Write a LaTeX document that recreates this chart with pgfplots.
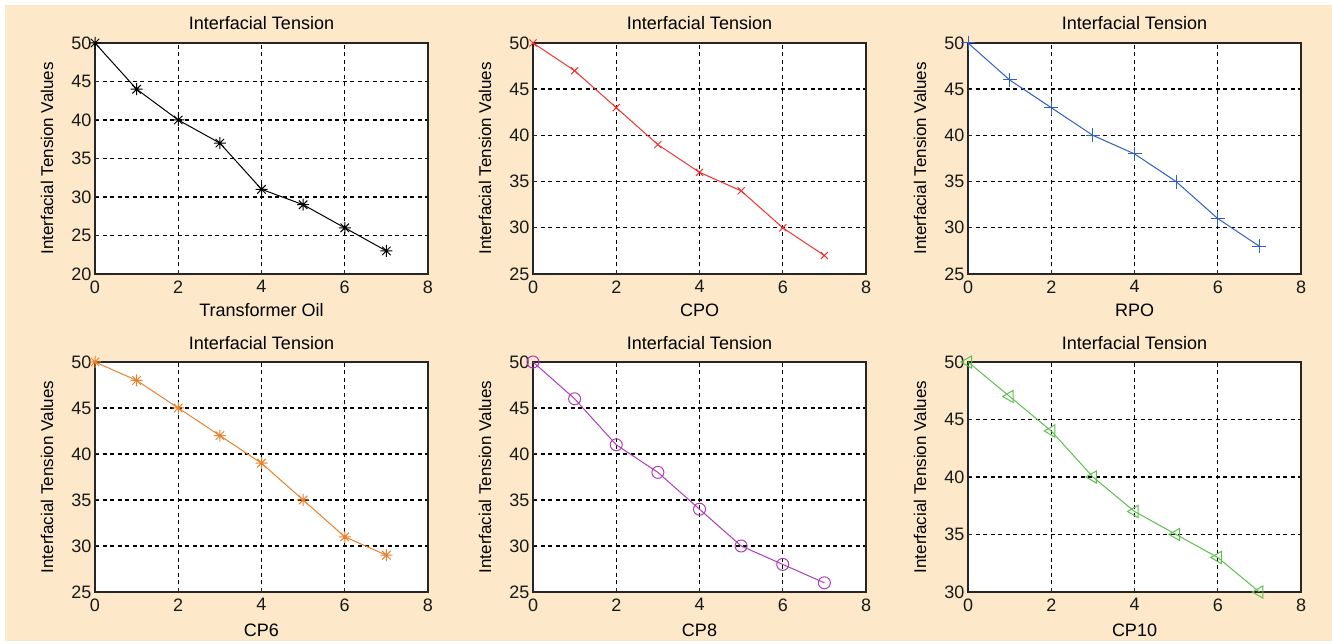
\documentclass[border=0pt]{standalone}
\usepackage{pgfplots}
\pgfplotsset{compat=1.18}
\usepackage{fontspec}
\setmainfont{Liberation Sans}
\definecolor{bg}{RGB}{253,233,201}
\definecolor{cred}{RGB}{240,50,50}
\definecolor{cblue}{RGB}{50,95,195}
\definecolor{corange}{RGB}{232,130,45}
\definecolor{cpurple}{RGB}{175,60,185}
\definecolor{cgreen}{RGB}{95,190,80}
\pgfdeclareplotmark{mstar}{%
  \pgfpathmoveto{\pgfqpoint{-\pgfplotmarksize}{0pt}}\pgfpathlineto{\pgfqpoint{\pgfplotmarksize}{0pt}}%
  \pgfpathmoveto{\pgfqpoint{0pt}{-\pgfplotmarksize}}\pgfpathlineto{\pgfqpoint{0pt}{\pgfplotmarksize}}%
  \pgfpathmoveto{\pgfqpoint{-0.707\pgfplotmarksize}{-0.707\pgfplotmarksize}}\pgfpathlineto{\pgfqpoint{0.707\pgfplotmarksize}{0.707\pgfplotmarksize}}%
  \pgfpathmoveto{\pgfqpoint{-0.707\pgfplotmarksize}{0.707\pgfplotmarksize}}\pgfpathlineto{\pgfqpoint{0.707\pgfplotmarksize}{-0.707\pgfplotmarksize}}%
  \pgfusepathqstroke}
\pgfplotsset{
  every axis title shift=0pt,
  panel/.style={
    scale only axis, width=333pt, height=231pt,
    axis background/.style={fill=white},
    xmin=0, xmax=8, xtick={0,2,4,6,8},
    ymax=50,
    grid=major,
    major grid style={black, line width=1.4pt, dash pattern=on 4pt off 3.5pt},
    axis line style={black!85, line width=1.5pt},
    tick style={black!85, line width=1pt},
    major tick length=4pt,
    tick align=inside,
    xtick pos=bottom, ytick pos=left,
    /pgf/number format/assume math mode=true,
    tick label style={font=\fontsize{18}{20}\selectfont, text=black!90},
    xticklabel style={yshift=-3pt},
    yticklabel style={xshift=0pt},
    title={Interfacial Tension},
    title style={font=\fontsize{18}{20}\selectfont, at={(axis description cs:0.5,1.087)}, anchor=center},
    ylabel={Interfacial Tension Values},
    ylabel style={font=\fontsize{17}{19}\selectfont, at={(axis description cs:-0.144,0.5)}, anchor=center},
    xlabel style={font=\fontsize{18}{20}\selectfont, at={(axis description cs:0.5,-0.158)}, anchor=center},
    anchor=south west,
  },
  ser/.style={line width=1pt, mark size=6pt, mark options={solid, line width=1pt}},
}
\begin{document}
\begin{tikzpicture}
\path[use as bounding box] (0pt,0pt) rectangle (1332pt,644pt);
\fill[white] (0pt,0pt) rectangle (1332pt,644pt);
\fill[bg] (5pt,3pt) rectangle (1332pt,639pt);
% Row 1
\begin{axis}[panel, at={(95pt,370pt)}, ymin=20, ytick={20,25,...,50}, xlabel={Transformer Oil}]
\addplot[ser, black, mark=mstar] coordinates {(0,50)(1,44)(2,40)(3,37)(4,31)(5,29)(6,26)(7,23)};
\end{axis}
\begin{axis}[panel, at={(533pt,370pt)}, ymin=25, ytick={25,30,...,50}, xlabel={CPO}]
\addplot[ser, cred, mark=x, mark size=5pt] coordinates {(0,50)(1,47)(2,43)(3,39)(4,36)(5,34)(6,30)(7,27)};
\end{axis}
\begin{axis}[panel, at={(968pt,370pt)}, ymin=25, ytick={25,30,...,50}, xlabel={RPO}]
\addplot[ser, cblue, mark=+, mark size=7pt] coordinates {(0,50)(1,46)(2,43)(3,40)(4,38)(5,35)(6,31)(7,28)};
\end{axis}
% Row 2
\begin{axis}[panel, at={(95pt,52pt)}, height=230pt, ymin=25, ytick={25,30,...,50}, xlabel={CP6}, xlabel style={at={(axis description cs:0.5,-0.165)}}, title style={at={(axis description cs:0.5,1.083)}}]
\addplot[ser, corange, mark=mstar] coordinates {(0,50)(1,48)(2,45)(3,42)(4,39)(5,35)(6,31)(7,29)};
\end{axis}
\begin{axis}[panel, at={(533pt,52pt)}, height=230pt, ymin=25, ytick={25,30,...,50}, xlabel={CP8}, xlabel style={at={(axis description cs:0.5,-0.165)}}, title style={at={(axis description cs:0.5,1.083)}}]
\addplot[ser, cpurple, mark=o, mark size=6pt] coordinates {(0,50)(1,46)(2,41)(3,38)(4,34)(5,30)(6,28)(7,26)};
\end{axis}
\begin{axis}[panel, at={(968pt,52pt)}, height=230pt, ymin=30, ytick={30,35,...,50}, xlabel={CP10}, xlabel style={at={(axis description cs:0.5,-0.165)}}, title style={at={(axis description cs:0.5,1.083)}}]
\addplot[ser, cgreen, mark=triangle, mark size=7pt, mark options={solid, rotate=90, line width=1pt}] coordinates {(0,50)(1,47)(2,44)(3,40)(4,37)(5,35)(6,33)(7,30)};
\end{axis}
\end{tikzpicture}
\end{document}
